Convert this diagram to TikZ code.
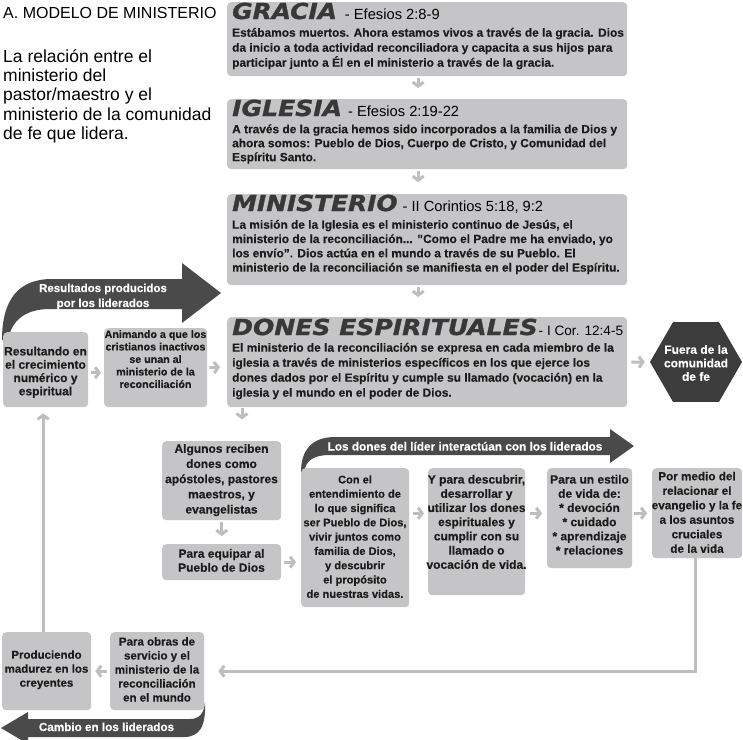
\documentclass[tikz,border=0pt]{standalone}
\usepackage{fontspec}
\usepackage{graphicx}
\setmainfont{Liberation Sans}[BoldFeatures={FakeBold=0.35}]
\newfontfamily\headfam{DejaVu Sans}[FakeBold=1.2]
\usetikzlibrary{arrows.meta,shapes.geometric}
\definecolor{boxgray}{HTML}{C5C5C7}
\definecolor{arrgray}{HTML}{BEBEBE}
\definecolor{darkarr}{HTML}{4A4A4A}
\definecolor{hexc}{HTML}{3C3C3C}
\definecolor{headc}{HTML}{383838}
\definecolor{txt}{HTML}{1C1C1C}
\newcommand{\hd}[2]{\scalebox{#2}[1]{\headfam\bfseries\itshape\fontsize{22}{22}\selectfont\color{headc}#1}}
\newcommand{\rf}[1]{{\fontsize{14.7}{14.7}\selectfont\color{black}#1}}
\tikzset{
  box/.style={fill=boxgray, rounded corners=4pt, inner sep=0pt, draw=none, anchor=north west},
  conn/.style={draw=arrgray, line width=3pt, -{Straight Barb[length=4pt,width=11pt]}},
  btxt/.style={anchor=north, inner sep=0pt, align=center, text=txt},
  mtxt/.style={anchor=north west, inner sep=0pt, align=left, text=txt},
  wtxt/.style={inner sep=0pt, align=center, text=white},
}
\begin{document}
\begin{tikzpicture}[x=1pt,y=-1pt]
\fill[white] (0,0) rectangle (743,739);
\path[use as bounding box] (0,0) rectangle (743,739);

% left texts
\node[anchor=base west, inner sep=0pt, font=\fontsize{16}{19}\selectfont] (title) at (3,18) {A. MODELO DE MINISTERIO};
\node[anchor=north west, inner sep=0pt, align=left, font=\fontsize{17.5}{19.3}\selectfont] (desc) at (3,48.5)
  {\strut La relación entre el\\ministerio del\\pastor/maestro y el\\ministerio de la comunidad\\de fe que lidera.};

% dark arrows (behind boxes)
\fill[darkarr] (2,340) .. controls (2,300) and (18,279) .. (52,279) -- (182,279) -- (182,263) -- (221,293) -- (182,323) -- (182,309) -- (50,309) .. controls (28,309) and (12,318) .. (8,340) -- cycle;
\fill[darkarr] (301,472) .. controls (301,450) and (312,437) .. (335,437) -- (610,437) -- (610,429) -- (634,446) -- (610,463) -- (610,455) -- (330,455) .. controls (314,455) and (306,460) .. (304,472) -- cycle;
\fill[darkarr] (28,719) -- (190,719) .. controls (199,719) and (204,714) .. (205,702) .. controls (206,726) and (200,737) .. (184,737) -- (28,737) -- (28,744) -- (1,728) -- (28,712) -- cycle;

% main boxes
\node[box, minimum width=400pt, minimum height=74pt] (gracia) at (227,2) {};
\node[box, minimum width=400pt, minimum height=70pt] (iglesia) at (227,99) {};
\node[box, minimum width=400pt, minimum height=91pt] (minist) at (227,194) {};
\node[box, minimum width=400pt, minimum height=90pt] (dones) at (227,317) {};

\node[anchor=base west, inner sep=0pt] (hgr) at (232,19) {\hd{GRACIA}{1.13}\hspace{8pt}\rf{- Efesios 2:8-9}};
\node[anchor=base west, inner sep=0pt] (hig) at (232,116) {\hd{IGLESIA}{1.14}\hspace{6pt}\rf{- Efesios 2:19-22}};
\node[anchor=base west, inner sep=0pt] (hmi) at (232,211) {\hd{MINISTERIO}{1.13}\hspace{5pt}\rf{- II Corintios 5:18, 9:2}};
\node[anchor=base west, inner sep=0pt] (hdo) at (232,335) {\hd{DONES ESPIRITUALES}{1.14}\hspace{1pt}{\fontsize{13.6}{14}\selectfont - I Cor. 12:4-5}};

\node[mtxt, font=\bfseries\fontsize{11.9}{15}\selectfont] (tgr) at (232,26) {\strut Estábamos muertos. Ahora estamos vivos a través de la gracia. Dios\\da inicio a toda actividad reconciliadora y capacita a sus hijos para\\participar junto a Él en el ministerio a través de la gracia.};
\node[mtxt, font=\bfseries\fontsize{11.9}{14}\selectfont] (tig) at (232,123.2) {\strut A través de la gracia hemos sido incorporados a la familia de Dios y\\ahora somos: Pueblo de Dios, Cuerpo de Cristo, y Comunidad del\\Espíritu Santo.};
\node[mtxt, font=\bfseries\fontsize{11.9}{14.3}\selectfont] (tmi) at (232,218.5) {\strut La misión de la Iglesia es el ministerio continuo de Jesús, el\\ministerio de la reconciliación... "Como el Padre me ha enviado, yo\\los envío". Dios actúa en el mundo a través de su Pueblo. El\\ministerio de la reconciliación se manifiesta en el poder del Espíritu.};
\node[mtxt, font=\bfseries\fontsize{11.9}{15}\selectfont] (tdo) at (232,341) {\strut El ministerio de la reconciliación se expresa en cada miembro de la\\iglesia a través de ministerios específicos en los que ejerce los\\dones dados por el Espíritu y cumple su llamado (vocación) en la\\iglesia y el mundo en el poder de Dios.};

% hexagon
\node[regular polygon, regular polygon sides=6, minimum size=92pt, inner sep=0pt, fill=hexc] (hex) at (696,362) {};
\node[wtxt, font=\bfseries\fontsize{12}{13.5}\selectfont] (hext) at (696,363) {Fuera de la\\comunidad\\de fe};

% small boxes
\node[box, minimum width=85pt, minimum height=75pt] (resul) at (3,332) {};
\node[box, minimum width=103pt, minimum height=79pt] (anim) at (104,328) {};
\node[box, minimum width=119pt, minimum height=79pt] (algunos) at (162,441) {};
\node[box, minimum width=119pt, minimum height=36pt] (equipar) at (162,544) {};
\node[box, minimum width=108pt, minimum height=139pt] (conel) at (301,468) {};
\node[box, minimum width=97pt, minimum height=127pt] (ypara) at (428,468) {};
\node[box, minimum width=85pt, minimum height=100pt] (estilo) at (547,468) {};
\node[box, minimum width=90pt, minimum height=90pt] (pormedio) at (652,468) {};
\node[box, minimum width=89pt, minimum height=78pt] (produc) at (2,632) {};
\node[box, minimum width=94pt, minimum height=78pt] (obras) at (110,632) {};

\node[btxt, font=\bfseries\fontsize{12}{13.3}\selectfont] (tres) at (45.5,345.9) {\strut Resultando en\\el crecimiento\\numérico y\\espiritual};
\node[btxt, font=\bfseries\fontsize{10.7}{12.5}\selectfont] (tan) at (155.5,329) {\strut Animando a que los\\cristianos inactivos\\se unan al\\ministerio de la\\reconciliación};
\node[btxt, font=\bfseries\fontsize{12}{15.2}\selectfont] (tal) at (221.5,441.9) {\strut Algunos reciben\\dones como\\apóstoles, pastores\\maestros, y\\evangelistas};
\node[btxt, font=\bfseries\fontsize{12}{14}\selectfont] (teq) at (221.5,547.7) {\strut Para equipar al\\Pueblo de Dios};
\node[btxt, font=\bfseries\fontsize{11.1}{14.3}\selectfont] (tco) at (355,473.2) {\strut Con el\\entendimiento de\\lo que significa\\ser Pueblo de Dios,\\vivir juntos como\\familia de Dios,\\y descubrir\\el propósito\\de nuestras vidas.};
\node[btxt, font=\bfseries\fontsize{12}{14.2}\selectfont] (typ) at (476.5,473.4) {\strut Y para descubrir,\\desarrollar y\\utilizar los dones\\espirituales y\\cumplir con su\\llamado o\\vocación de vida.};
\node[btxt, font=\bfseries\fontsize{12}{14.2}\selectfont] (tes) at (589.5,473.4) {\strut Para un estilo\\de vida de:\\* devoción\\* cuidado\\* aprendizaje\\* relaciones};
\node[btxt, font=\bfseries\fontsize{11.7}{14.5}\selectfont] (tpo) at (697,469.9) {\strut Por medio del\\relacionar el\\evangelio y la fe\\a los asuntos\\cruciales\\de la vida};
\node[btxt, font=\bfseries\fontsize{11.5}{14}\selectfont] (tpr) at (46.5,648.7) {\strut Produciendo\\madurez en los\\creyentes};
\node[btxt, font=\bfseries\fontsize{11.5}{14}\selectfont] (tob) at (157,635.5) {\strut Para obras de\\servicio y el\\ministerio de la\\reconciliación\\en el mundo};

% dark arrow texts
\node[wtxt, anchor=north, font=\bfseries\fontsize{11.5}{15}\selectfont] (tresult) at (103,281.3) {\strut Resultados producidos\\por los liderados};
\node[wtxt, anchor=base, font=\bfseries\fontsize{11.8}{14}\selectfont] (tdones) at (465,450.5) {Los dones del líder interactúan con los liderados};
\node[wtxt, anchor=base, font=\bfseries\fontsize{11.7}{14}\selectfont] (tcambio) at (106.5,731) {Cambio en los liderados};

% connectors
\draw[conn] ([xshift=-9pt,yshift=-2pt]gracia.south) -- ([xshift=-9pt,yshift=11pt]iglesia.north);
\draw[conn] ([xshift=-9pt,yshift=-2pt]iglesia.south) -- ([xshift=-9pt,yshift=12pt]minist.north);
\draw[conn] ([xshift=-9pt,yshift=-2pt]minist.south) -- ([xshift=-9pt,yshift=20pt]dones.north);
\coordinate (dd) at ([xshift=15pt,yshift=-12pt]dones.south west);
\draw[conn] ([xshift=15pt,yshift=-1pt]dones.south west) -- (dd);
\draw[conn] ([xshift=4pt]dones.east) -- ([xshift=-5pt]hex.west);
\draw[conn] ([xshift=3pt,yshift=-3pt]resul.east) -- ([xshift=-3pt,yshift=-5pt]anim.west);
\draw[conn] ([xshift=2pt]anim.east) -- ([xshift=-7pt,yshift=-5pt]dones.west);
\draw[conn] ([yshift=-2pt]algunos.south) -- ([yshift=8pt]equipar.north);
\draw[conn] ([xshift=3pt]equipar.east) -- ([xshift=-5pt,yshift=-24.5pt]conel.west);
\draw[conn] ([xshift=4pt,yshift=24.5pt]conel.east) -- ([xshift=-4pt,yshift=18.5pt]ypara.west);
\draw[conn] ([xshift=5pt,yshift=18.5pt]ypara.east) -- ([xshift=-5pt,yshift=5pt]estilo.west);
\draw[conn] ([xshift=2pt,yshift=5pt]estilo.east) -- ([xshift=-5pt]pormedio.west);
\draw[conn] ([xshift=-2pt]pormedio.south) |- ([xshift=14pt]obras.east);
\draw[conn] ([xshift=-3pt]obras.west) -- ([xshift=4pt]produc.east);
\draw[conn] ([xshift=-3.5pt]produc.north) -- ([xshift=-2.5pt,yshift=-6pt]resul.south);
\end{tikzpicture}
\end{document}
